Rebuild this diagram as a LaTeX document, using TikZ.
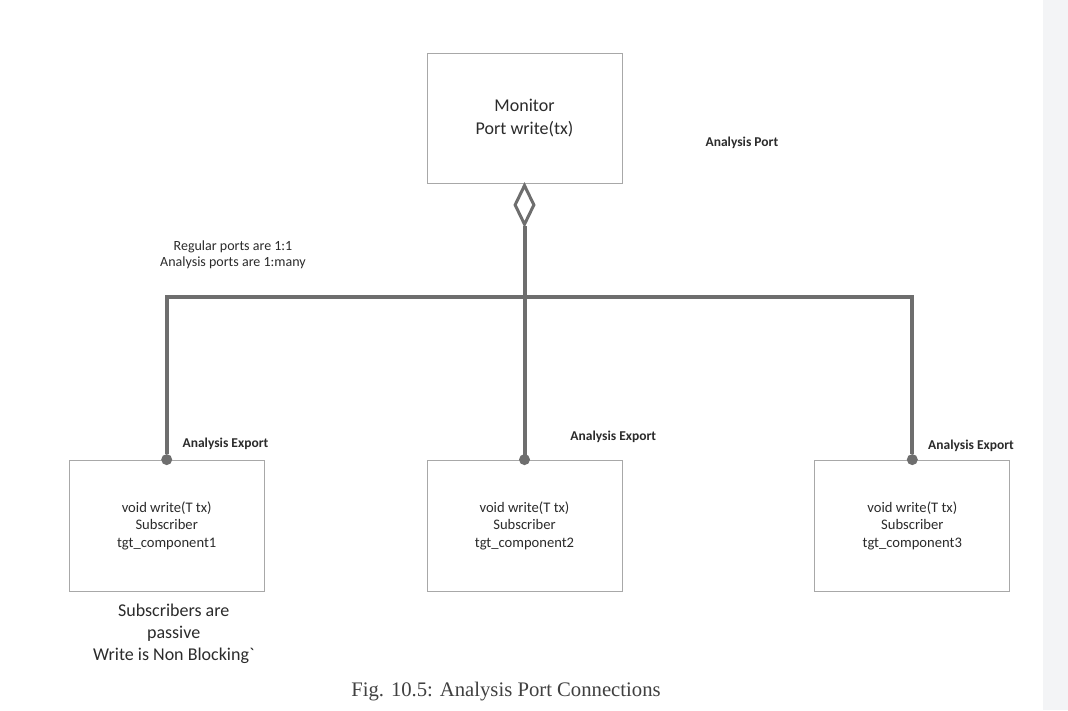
\documentclass[tikz,border=0pt]{standalone}
\usepackage{fontspec}
\setmainfont{Carlito}
\newfontfamily\capfont{Liberation Serif}
\usetikzlibrary{positioning,shapes.geometric}
\definecolor{linegray}{HTML}{6E6E6E}
\definecolor{frame}{HTML}{A8A8A8}
\definecolor{ink}{HTML}{2B2B2B}
\definecolor{capgray}{HTML}{404040}
\definecolor{pageedge}{HTML}{F3F4F6}
\tikzset{
  box/.style={draw=frame, line width=0.8pt, align=center, text=ink, inner sep=0pt,
              minimum width=195pt, minimum height=131pt, font=\fontsize{14.6}{17.5}\selectfont},
  note/.style={align=center, text=ink, inner sep=0pt, font=\fontsize{14}{16}\selectfont},
  tagline/.style={text=ink, inner sep=0pt, font=\bfseries\fontsize{13.5}{16}\selectfont},
  wire/.style={draw=linegray, line width=4pt},
  dot/.style={circle, fill=linegray, minimum size=11pt, inner sep=0pt},
  agg/.style={diamond, draw=linegray, line width=3pt, fill=white, inner sep=0pt,
              minimum width=20pt, minimum height=40pt},
}
\begin{document}
\begin{tikzpicture}[x=1pt, y=-1pt, node distance=10pt and 10pt]
  \fill[white] (0,0) rectangle (1043,710);
  \fill[pageedge] (1043,0) rectangle (1068,710);
  \useasboundingbox (0,0) rectangle (1068,710);
  \node[box, minimum height=130pt, font=\fontsize{18}{23}\selectfont] (mon) at (524.5,118)
    {Monitor\\Port write(tx)};
  \node[tagline, right=83pt of mon, yshift=-25pt] (aport) {Analysis Port};
  \node[agg, anchor=north] (dia) at (mon.south) {};
  \node[box] (sub2) at (524.5,525.5) {void write(T tx)\\Subscriber\\tgt\_component2};
  \node[box, left=162pt of sub2] (sub1) {void write(T tx)\\Subscriber\\tgt\_component1};
  \node[box, right=192pt of sub2] (sub3) {void write(T tx)\\Subscriber\\tgt\_component3};
  \coordinate (bus) at (0,297);
  \draw[wire] (dia) -- (sub2.north);
  \node[dot] (d1) at (sub1.north) {};
  \node[dot] (d2) at (sub2.north) {};
  \node[dot] (d3) at (sub3.north) {};
  \draw[wire] (d1) |- (dia |- bus) -| (d3);
  \node[tagline, right=10pt of d1, yshift=16pt] (exp1) {Analysis Export};
  \node[tagline, right=40pt of d2, yshift=23pt] (exp2) {Analysis Export};
  \node[tagline, right=10pt of d3, yshift=14pt] (exp3) {Analysis Export};
  \node[note] (rule) at (233,255) {Regular ports are 1:1\\Analysis ports are 1:many};
  \node[note, font=\fontsize{18}{22}\selectfont, below=12pt of sub1, xshift=7pt] (passive)
    {Subscribers are\\passive\\Write is Non Blocking\textasciigrave};
  \node[font=\capfont\fontsize{20.7}{24}\selectfont, text=capgray, anchor=base] (cap) at (506,696)
    {Fig. 10.5: Analysis Port Connections};
\end{tikzpicture}
\end{document}
